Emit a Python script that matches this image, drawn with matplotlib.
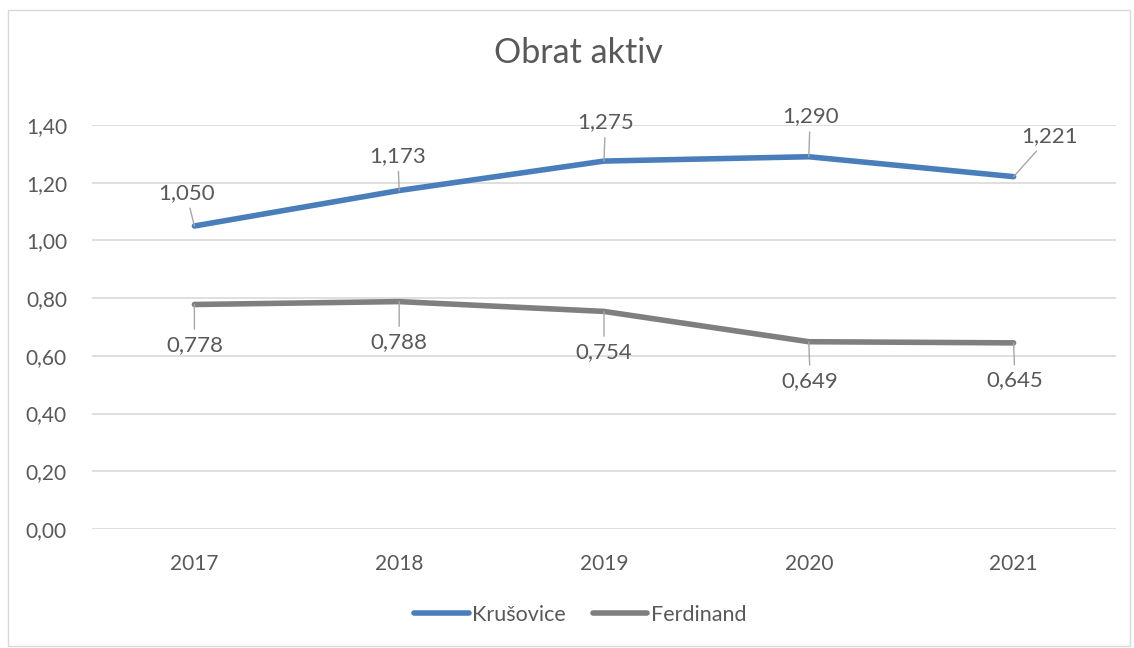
import matplotlib
matplotlib.use('Agg')
import matplotlib.pyplot as plt
from matplotlib.patches import Rectangle
from matplotlib.ticker import FuncFormatter

# Data
years = ['2017', '2018', '2019', '2020', '2021']
krusovice = [1.050, 1.173, 1.275, 1.290, 1.221]
ferdinand = [0.778, 0.788, 0.754, 0.649, 0.645]

# label offsets (points) for each data label
kru_offsets = [(-6, 24), (-1, 25), (1, 28), (1, 29), (26, 29)]
fer_offsets = [(0, -29), (0, -29), (0, -29), (1, -28), (1, -27)]

TEXT = '#595959'
BLUE = '#4A7EBB'
GRAY = '#7F7F7F'
GRID = '#D9D9D9'
LEADER = '#A6A6A6'

plt.rcParams['font.family'] = ['Lato', 'DejaVu Sans']

fig = plt.figure(figsize=(11.34, 6.48), dpi=100)
fig.patches.append(Rectangle((8 / 1134, 2 / 648), 1122 / 1134, 636 / 648,
                             transform=fig.transFigure, fill=False,
                             edgecolor='#D9D9D9', linewidth=1))
ax = fig.add_axes([92 / 1134, 1 - 529 / 648, 1024 / 1134, 404 / 648])

x = list(range(len(years)))
ax.plot(x, krusovice, color=BLUE, linewidth=4, solid_capstyle='round',
        label='Krušovice', zorder=3)
ax.plot(x, ferdinand, color=GRAY, linewidth=4, solid_capstyle='round',
        label='Ferdinand', zorder=3)

def fmt(v):
    return f'{v:.3f}'.replace('.', ',')

for xi, v, off in zip(x, krusovice, kru_offsets):
    ax.annotate(fmt(v), xy=(xi, v), xytext=off, textcoords='offset points',
                ha='center', va='center', fontsize=16, color=TEXT,
                arrowprops=dict(arrowstyle='-', color=LEADER, lw=1,
                                shrinkA=2, shrinkB=0))
for xi, v, off in zip(x, ferdinand, fer_offsets):
    ax.annotate(fmt(v), xy=(xi, v), xytext=off, textcoords='offset points',
                ha='center', va='center', fontsize=16, color=TEXT,
                arrowprops=dict(arrowstyle='-', color=LEADER, lw=1,
                                shrinkA=2, shrinkB=0))

ax.set_xlim(-0.5, len(years) - 0.5)
ax.set_ylim(0, 1.4)
ax.set_yticks([0, 0.2, 0.4, 0.6, 0.8, 1.0, 1.2, 1.4])
ax.yaxis.set_major_formatter(FuncFormatter(lambda v, p: f'{v:.2f}'.replace('.', ',')))
ax.set_xticks(x)
ax.set_xticklabels(years)
ax.tick_params(axis='both', length=0, labelsize=15, labelcolor=TEXT)
ax.tick_params(axis='x', pad=18)
ax.tick_params(axis='y', pad=18)
ax.grid(axis='y', color=GRID, linewidth=1.2)
ax.set_axisbelow(True)
for s in ax.spines.values():
    s.set_visible(False)

fig.text(578 / 1134, 1 - 53 / 648, 'Obrat aktiv', ha='center', va='center',
         fontsize=24.5, color=TEXT)

fig.legend(loc='center', bbox_to_anchor=(580 / 1134, 1 - 615 / 648), ncol=2,
           frameon=False, fontsize=15.5, labelcolor=TEXT, handlelength=2.55,
           handletextpad=0.15, columnspacing=1.25)

fig.savefig('out.png', dpi=100)
